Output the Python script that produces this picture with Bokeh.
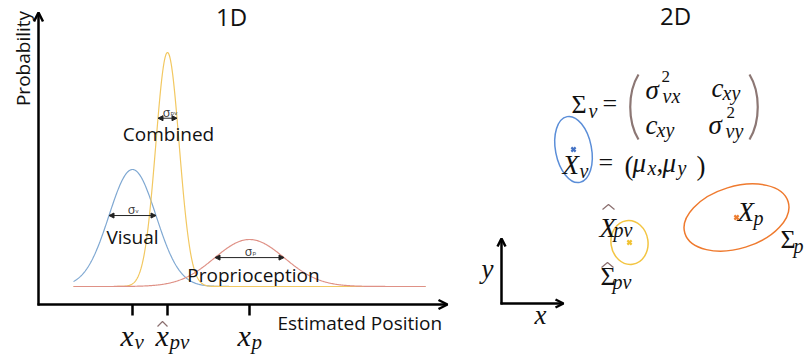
import numpy as np
from bokeh.plotting import figure
from bokeh.models import Range1d, Arrow, OpenHead, NormalHead, ColumnDataSource
from bokeh.core.properties import value
from bokeh.embed import file_html
from bokeh.resources import INLINE

# ---------------- data (screen-pixel units) ----------------
curve_names = ["Visual", "Combined", "Proprioception"]
curve_means = [132, 167, 249]
curve_sigmas = [23.5, 11.7, 35.0]
curve_peaks = [117, 234, 47]
curve_colors = ["#7fa8d2", "#f2c861", "#df9186"]
sigma_arrow_halfwidth = [23.5, 9.5, 34.5]
sigma_labels = ["v", "pv", "p"]
curve_baseline = 286
curve_x_start = 73
curve_x_end = 425

tick_positions = [132, 167, 249]
tick_bases = ["x", "x", "x"]
tick_subs = ["v", "pv", "p"]
tick_hats = [False, True, False]

ellipse_names = ["v", "pv", "p"]
ellipse_x = [573, 629, 736]
ellipse_y = [149, 242, 217]
ellipse_w = [36, 37, 108]
ellipse_h = [67, 44, 62]
ellipse_angle_deg = [11, 8, 17]
ellipse_colors = ["#5b8ed8", "#f3c542", "#ef7a2e"]
marker_colors = ["#4472c4", "#f1c232", "#ed7d31"]

UI = "Open Sans"
MATH = "Liberation Serif"
INK = "#111111"
HATC = "#8b6f6f"
MDY = -9  # vertical correction for math text baselines

p = figure(width=807, height=360, x_range=Range1d(0, 807), y_range=Range1d(360, 0),
           x_axis_type=None, y_axis_type=None, toolbar_location=None,
           output_backend="svg", min_border=0)
p.grid.visible = False
p.outline_line_color = None
p.background_fill_color = "white"

# ---------------- 1D panel ----------------
xs = np.linspace(curve_x_start, curve_x_end, 600)
for m, s, h, c in zip(curve_means, curve_sigmas, curve_peaks, curve_colors):
    ys = curve_baseline - h * np.exp(-((xs - m) ** 2) / (2 * s * s))
    p.line(xs, ys, line_color=c, line_width=1.2)

# sigma arrows and labels
for m, s, h, hw, lab in zip(curve_means, curve_sigmas, curve_peaks, sigma_arrow_halfwidth, sigma_labels):
    ya = curve_baseline - h * np.exp(-(hw ** 2) / (2 * s * s))
    p.add_layout(Arrow(x_start=m - hw, y_start=ya, x_end=m + hw, y_end=ya,
                       line_color="#222222", line_width=1,
                       start=NormalHead(size=5, fill_color="#222222", line_color="#222222"),
                       end=NormalHead(size=5, fill_color="#222222", line_color="#222222")))
    p.text(x=[m - 1], y=[ya - 6], text=["σ"], text_font=value(UI), text_font_size="12px",
           text_align="center", text_baseline="alphabetic", text_color="#333333")
    p.text(x=[m + 3], y=[ya - 5], text=[lab], text_font=value(UI), text_font_size="6px",
           text_align="left", text_baseline="alphabetic", text_color="#333333")

# curve names
name_pos = [(132, 236), (168, 133), (253, 274)]
for (nx, ny), nm in zip(name_pos, curve_names):
    p.text(x=[nx], y=[ny], text=[nm], text_font=value(UI), text_font_size="19px",
           text_align="center", text_baseline="middle", text_color=INK)

# axes with arrows
p.add_layout(Arrow(x_start=38, y_start=305, x_end=38, y_end=12, line_width=2.5, line_color="black",
                   end=OpenHead(size=9, line_width=2.5, line_color="black")))
p.add_layout(Arrow(x_start=37, y_start=304, x_end=447, y_end=304, line_width=2.5, line_color="black",
                   end=OpenHead(size=9, line_width=2.5, line_color="black")))
p.segment(x0=tick_positions, y0=[304] * 3, x1=tick_positions, y1=[315] * 3,
          line_color="black", line_width=2.5)

p.text(x=[22], y=[58], text=["Probability"], angle=np.pi / 2, text_font=value(UI),
       text_font_size="19px", text_align="center", text_baseline="middle", text_color=INK)
p.text(x=[277], y=[322], text=["Estimated Position"], text_font=value(UI),
       text_font_size="19px", text_align="left", text_baseline="middle", text_color=INK)
p.text(x=[231], y=[16], text=["1D"], text_font=value(UI), text_font_size="24px",
       text_align="center", text_baseline="middle", text_color=INK)
p.text(x=[675], y=[15], text=["2D"], text_font=value(UI), text_font_size="24px",
       text_align="center", text_baseline="middle", text_color=INK)

# tick labels (math)
for tx, b, sb, hat in zip(tick_positions, tick_bases, tick_subs, tick_hats):
    left = tx - 12
    p.text(x=[left], y=[344 + MDY], text=[b], text_font=value(MATH), text_font_style="italic",
           text_font_size="30px", text_align="left", text_baseline="alphabetic", text_color=INK)
    p.text(x=[left + 14], y=[350 + MDY], text=[sb], text_font=value(MATH), text_font_style="italic",
           text_font_size="21px", text_align="left", text_baseline="alphabetic", text_color=INK)
    if hat:
        p.line([left + 2, left + 7, left + 12], [326, 321, 326], line_color=HATC, line_width=1.2)

# ---------------- 2D panel ----------------
p.ellipse(x=ellipse_x, y=ellipse_y, width=ellipse_w, height=ellipse_h,
          angle=[np.deg2rad(a) for a in ellipse_angle_deg],
          fill_color=None, line_color=ellipse_colors, line_width=1.5)
p.scatter(x=ellipse_x, y=ellipse_y, marker="x", size=6, line_width=2.2, line_color=marker_colors)

# math pieces: (left x, baseline y, text, size, italic)
pieces = [
    (571, 113, "Σ", 26, False), (588, 119, "v", 20, True), (602, 112, "=", 26, False),
    (645, 98, "σ", 27, True), (661, 85, "2", 17, False), (662, 104, "vx", 20, True),
    (711, 96, "c", 27, True), (722, 101, "xy", 20, True),
    (645, 133, "c", 27, True), (656, 138, "xy", 20, True),
    (708, 133, "σ", 27, True), (726, 121, "2", 17, False), (725, 139, "vy", 20, True),
    (562, 173, "X", 27, True), (579, 179, "v", 20, True), (598, 171, "=", 26, False),
    (624, 174, "(", 27, False), (632, 171, "μ", 27, True), (647, 176, "x", 20, True),
    (656, 171, ",", 27, False), (662, 171, "μ", 27, True), (677, 176, "y", 20, True),
    (696, 174, ")", 27, False),
    (737, 220, "X", 27, True), (753, 226, "p", 20, True),
    (780, 248, "Σ", 26, False), (793, 254, "p", 20, True),
    (599, 236, "X", 27, True), (613, 238, "pv", 20, True),
    (600, 285, "Σ", 26, False), (612, 290, "pv", 20, True),
    (481, 277, "y", 27, True), (534, 323, "x", 27, True),
]
src = ColumnDataSource(dict(
    x=[q[0] for q in pieces], y=[q[1] + MDY for q in pieces], text=[q[2] for q in pieces],
    size=["%dpx" % q[3] for q in pieces], style=["italic" if q[4] else "normal" for q in pieces]))
p.text(x="x", y="y", text="text", text_font_size="size", text_font_style="style",
       text_font=value(MATH), text_align="left", text_baseline="alphabetic",
       text_color=INK, source=src)

# hats over X_pv and Sigma_pv
p.multi_line(xs=[[602, 608, 614], [601, 607, 613]], ys=[[209, 204, 209], [267, 262, 267]],
             line_color=HATC, line_width=1.2)

# big matrix parentheses
p.bezier(x0=[638, 749], y0=[74, 74], x1=[638, 749], y1=[139, 139],
         cx0=[627, 760], cy0=[92, 92], cx1=[627, 760], cy1=[121, 121],
         line_color="#8c7774", line_width=2.2)

# 2D axes
p.add_layout(Arrow(x_start=501, y_start=304, x_end=501, y_end=238, line_width=2.5, line_color="black",
                   end=OpenHead(size=8, line_width=2.5, line_color="black")))
p.add_layout(Arrow(x_start=500, y_start=303, x_end=563, y_end=303, line_width=2.5, line_color="black",
                   end=OpenHead(size=8, line_width=2.5, line_color="black")))

open("out.html", "w").write(file_html(p, INLINE))
